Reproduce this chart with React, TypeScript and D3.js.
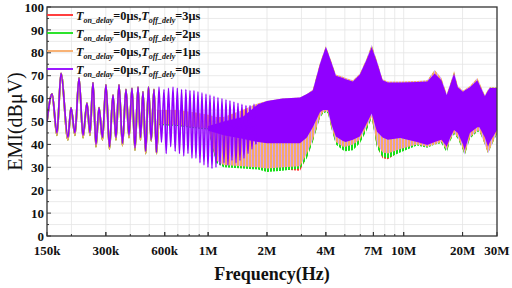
import React from 'react';
import * as d3 from 'd3';

// ---- axis ticks ----
const xTickValues = [150e3, 300e3, 600e3, 1e6, 2e6, 4e6, 7e6, 10e6, 20e6, 30e6];
const xTickLabels = ['150k', '300k', '600k', '1M', '2M', '4M', '7M', '10M', '20M', '30M'];
const yTickValues = [0, 10, 20, 30, 40, 50, 60, 70, 80, 90, 100];

// ---- series ----
const seriesColors = ['#ff2a2a', '#16e016', '#f8aa66', '#9000ff'];
const legendOffDelay = ['3μs', '2μs', '1μs', '0μs'];

// low-frequency resolved peaks/troughs (kHz, dBμV)
const spikeFreqKHz = [150, 159.2, 168.7, 176.9, 192.0, 199.0, 208.5, 218.7, 229.2, 240.2,
  248.8, 257.8, 267.0, 276.7, 288.2, 300.3, 313.0, 326.2, 337.9, 350.1,
  364.8, 380.1, 393.9, 408.0, 422.7, 438.0, 450.9, 464.4, 479.4, 495.5,
  511.5, 528.6, 544.4, 560.6, 577.3, 594.7, 610.3, 627.1, 643.5, 661.3,
  678.6, 695.5, 713.7, 731.5, 750.7, 769.5, 788.8, 807.6, 826.8, 846.4,
  866.5, 887.3, 908.4, 930.0, 952.4, 975.1, 998.3, 1022, 1046.5, 1071.4,
  1096.7, 1122.7, 1149.6, 1177, 1205, 1233.8, 1263.3, 1293.3, 1324, 1355,
  1388, 1421, 1455, 1489, 1525, 1561, 1599, 1637, 1676, 1716, 1756];
const spikeDbPurple = [50, 62, 45, 71, 43, 56, 45, 69, 44, 58,
  45, 67, 40, 56, 43, 66, 39, 61.5, 43, 66,
  40.5, 64, 44, 64.5, 38.5, 65, 43, 63, 37, 65,
  42, 64, 36.5, 65, 41, 64, 36, 64.5, 39, 65,
  37, 64.5, 36, 64, 35, 64, 36, 63.5, 34, 63.5,
  34, 63, 32, 62.5, 31, 62, 30, 61.5, 29.5, 61,
  30, 60.5, 31, 60, 32, 59.5, 31, 59, 33, 58.5,
  32, 58, 33, 57.5, 34, 57, 36, 57, 38, 57.5, 40];
const spikeDbOthers = [50, 62, 44, 71, 42, 56, 44, 69, 43, 58,
  44, 67, 39, 56, 42, 66, 38, 61.5, 42, 66,
  39.5, 64, 43, 64.5, 37.5, 65, 42, 63, 36, 65,
  41.5, 64, 36, 55];

// dense high-frequency region: envelope (MHz, dBμV)
const bandFreqMHz = [0.55, 0.7, 0.85, 1.0, 1.1, 1.2, 1.5, 1.8, 2.0, 2.4,
  2.95, 3.2, 3.43, 3.73, 3.87, 4.0, 4.1, 4.28, 4.5, 4.89,
  5.05, 5.5, 5.97, 6.46, 6.86, 7.3, 7.8, 8.3, 9.6, 11.7,
  13.2, 14.4, 15.6, 16.6, 17.3, 18.1, 18.9, 20.1, 20.5, 21.8,
  23.8, 24.4, 26, 27, 27.6, 30];
const redUpper = [54, 54, 53, 52, 51, 51, 54, 57, 58, 59, 59.5, 61, 63, 74.5, 78.5, 82, 79.5, 75, 69.5, 68.5,
  68, 67, 70, 76.5, 83, 75.5, 67.5, 66.5, 66.5, 67, 67.3, 71.5, 68, 61, 65.5, 71, 64.5, 62.5, 63, 64.5,
  68, 66, 60.5, 63, 64.5, 64.5];
const redLower = [49, 48.5, 47.5, 47, 32.5, 30.5, 30, 29.5, 28.5, 29, 28.5, 34.5, 41.5, 52, 54, 54.5, 54, 47, 40.5, 38,
  37.5, 38, 41, 46.5, 52, 39, 34, 33.5, 37, 40, 39, 40.5, 41, 37, 42, 45, 43, 38, 35.5, 43,
  46, 46, 40.5, 36.5, 38.5, 45];
const greenUpper = [54.5, 54.5, 53.5, 52.5, 51.5, 51.5, 54.5, 57.5, 58.5, 59.5, 60, 61.5, 63.5, 75, 79, 82.5, 80, 75.5, 70, 69,
  68.5, 67.5, 70.5, 77, 83.3, 76, 68, 67, 67, 67.5, 67.8, 72.3, 68.5, 61.5, 66, 71.5, 65, 63, 63.5, 65,
  68.5, 66.5, 61, 63.5, 64.8, 64.8];
const greenLower = [48.5, 48, 47, 46.5, 32, 30, 29.5, 29, 28, 28.5, 29.5, 34, 41, 51.5, 53.5, 54, 53.5, 46.5, 40, 37.5,
  37, 37.5, 40.5, 46, 51.5, 38.5, 34.5, 34, 36.5, 39.5, 38.5, 40, 40.5, 36.5, 41.5, 44.5, 42.5, 37.5, 35, 42.5,
  45.5, 45.5, 40, 36, 38, 44.5];
const orangeUpper = [55, 55, 54, 53, 52, 52, 55, 58, 59, 60, 60.5, 62, 64, 75.5, 79.5, 83, 80.5, 76, 70.5, 69.5,
  69, 68, 71, 77.5, 83.5, 76.5, 68.5, 67.5, 67.5, 67.7, 68, 72.5, 69, 62, 66.5, 72, 65.5, 63.5, 64, 65.5,
  69, 67, 61.5, 64, 65, 65];
const orangeLower = [49, 48.5, 47.5, 47, 33, 31, 30.5, 30, 29.5, 30, 30.5, 36, 42, 52, 54, 54.5, 54, 47, 41, 39,
  39, 40, 42, 47.5, 52, 40, 36.5, 36, 38, 40, 39, 40, 41, 37.5, 42, 45, 43, 38, 35.5, 43,
  46, 46, 40, 36, 38, 45];
const purpleUpper = [null, null, null, 48, 49, 50, 52, 57.5, 59, 60, 60.5, 62, 63.5, 75, 79, 82.5, 80, 75.5, 70, 69,
  68.5, 67.5, 70.5, 77, 82.5, 76, 68, 67, 67, 67.2, 67.5, 71, 68, 61.5, 66, 71, 65, 63, 63.5, 65,
  68, 66, 61, 63.5, 64.6, 64.6];
const purpleLower = [null, null, null, 46, 45, 44, 42.5, 41, 40.5, 40.5, 40.5, 43, 47.5, 54, 55, 55, 55, 48.5, 43.5, 41.5,
  41, 42, 43.5, 49, 53.5, 45.5, 43, 42, 42.8, 41, 39.7, 41, 42, 39, 43, 46.3, 45, 40, 37.5, 45,
  47.5, 47.5, 43, 39, 41, 46.3];

const W = 512, H = 288;
const FONT = '"Liberation Serif", "Times New Roman", serif';

type BandPt = { f: number; hi: number | null; lo: number | null };

export default function App() {
  const x = d3.scaleLog().domain([150e3, 30e6]).range([47, 497]);
  const y = d3.scaleLinear().domain([0, 100]).range([236, 7]);
  const [x0, x1] = x.range();
  const [yb, yt] = y.range();

  const spikeLine = d3.line<[number, number]>()
    .x(d => x(d[0] * 1e3)).y(d => y(d[1])).curve(d3.curveMonotoneX);
  const band = d3.area<BandPt>()
    .defined(d => d.hi != null && d.lo != null)
    .x(d => x(d.f * 1e6)).y0(d => y(d.lo as number)).y1(d => y(d.hi as number));

  const mkBand = (hi: (number | null)[], lo: (number | null)[]): BandPt[] =>
    bandFreqMHz.map((f, i) => ({ f, hi: hi[i], lo: lo[i] }));
  const purpleSpikes = spikeFreqKHz.map((f, i) => [f, spikeDbPurple[i]] as [number, number]);
  const otherSpikes = spikeDbOthers.map((v, i) => [spikeFreqKHz[i], v] as [number, number]);

  const bands = [
    mkBand(redUpper, redLower),
    mkBand(greenUpper, greenLower),
    mkBand(orangeUpper, orangeLower),
  ];

  const minorX = x.ticks().filter(v => v > 150e3 && v < 30e6);
  const gridY = d3.range(5, 100, 5);

  return (
    <svg width={W} height={H} style={{ position: 'absolute', left: 0, top: 0, background: '#fff' }}
      fontFamily={FONT}>
      <defs>
        <clipPath id="plot"><rect x={x0} y={yt} width={x1 - x0} height={yb - yt} /></clipPath>
        {seriesColors.slice(0, 3).map((c, i) => (
          <pattern key={'p' + i} id={'stripe' + i} width={3} height={8} patternUnits="userSpaceOnUse">
            <rect x={0} y={0} width={2} height={8} fill={c} />
            {i === 2 ? <rect x={2} y={0} width={0.6} height={8} fill="#b366ff" /> : null}
          </pattern>
        ))}
      </defs>
      {/* grid */}
      <g stroke="#e4e4e4" strokeWidth={0.8}>
        {gridY.map(v => <line key={'gy' + v} x1={x0} x2={x1} y1={y(v)} y2={y(v)} />)}
        {minorX.map(v => <line key={'gx' + v} x1={x(v)} x2={x(v)} y1={yt} y2={yb} />)}
      </g>
      {/* data */}
      <g clipPath="url(#plot)">
        {bands.map((b, i) => <path key={'b' + i} d={band(b) || ''} fill={`url(#stripe${i})`} />)}
        {[0, 1, 2].map(i => <path key={'s' + i} d={spikeLine(otherSpikes) || ''} fill="none"
          stroke={seriesColors[i]} strokeWidth={1.8} />)}
        <path d={band(mkBand(purpleUpper, purpleLower)) || ''} fill={seriesColors[3]} />
        <path d={spikeLine(purpleSpikes) || ''} fill="none" stroke={seriesColors[3]} strokeWidth={1.6} />
      </g>
      {/* frame */}
      <rect x={x0} y={yt} width={x1 - x0} height={yb - yt} fill="none" stroke="#333" strokeWidth={1.3} />
      {/* ticks */}
      <g stroke="#333" strokeWidth={1}>
        {gridY.concat([0, 100]).map(v => <line key={'yt' + v} x1={x0} x2={x0 + (v % 10 === 0 ? 4 : 2)} y1={y(v)} y2={y(v)} />)}
        {minorX.concat(xTickValues).map(v => <line key={'xt' + v} x1={x(v)} x2={x(v)} y1={yb}
          y2={yb - (xTickValues.includes(v) ? 4 : 2)} />)}
      </g>
      <g fontSize={13} fontWeight="bold" fill="#111">
        {yTickValues.map(v => <text key={'yl' + v} x={x0 - 3} y={y(v) + 4.6} textAnchor="end">{v}</text>)}
        {xTickValues.map((v, i) => <text key={'xl' + v} x={x(v)} y={yb + 19} textAnchor="middle">{xTickLabels[i]}</text>)}
      </g>
      <text x={(x0 + x1) / 2} y={280} textAnchor="middle" fontSize={18} fontWeight="bold" fill="#111">Frequency(Hz)</text>
      <text transform={`translate(15,${(yt + yb) / 2}) rotate(-90)`} textAnchor="middle" dy="0.35em" fontSize={20} fill="#111">EMI(dBμV)</text>
      {/* legend */}
      {legendOffDelay.map((lbl, i) => {
        const ry = 15 + i * 18;
        return (
          <g key={'lg' + i}>
            <line x1={47} x2={73} y1={ry} y2={ry} stroke={seriesColors[i]} strokeWidth={1.8} />
            <text x={76} y={ry + 4.5} fontSize={12.3} fontWeight="bold" fill="#111">
              <tspan fontStyle="italic">T</tspan>
              <tspan fontStyle="italic" fontSize={8} dy={3}>on_delay</tspan>
              <tspan dy={-3}>=0μs,</tspan>
              <tspan fontStyle="italic">T</tspan>
              <tspan fontStyle="italic" fontSize={8} dy={3}>off_dely</tspan>
              <tspan dy={-3}>={lbl}</tspan>
            </text>
          </g>
        );
      })}
    </svg>
  );
}
